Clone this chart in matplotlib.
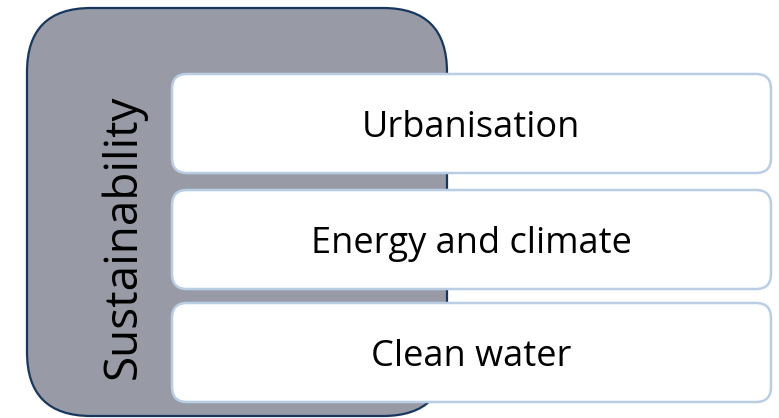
import matplotlib
matplotlib.use("Agg")
import matplotlib.pyplot as plt
from matplotlib.patches import FancyBboxPatch

title = "Sustainability"
items = ["Urbanisation", "Energy and climate", "Clean water"]

W, H = 779, 418
fig = plt.figure(figsize=(W / 100, H / 100), dpi=100)
ax = fig.add_axes([0, 0, 1, 1])
ax.set_xlim(0, W)
ax.set_ylim(H, 0)
ax.axis("off")

# outer container
outer = FancyBboxPatch((27, 8), 420, 408, boxstyle="round,pad=0,rounding_size=64",
                       facecolor="#989ba5", edgecolor="#17375e", linewidth=1.6, zorder=1)
ax.add_patch(outer)
ax.text(123, 237, title, rotation=90, ha="center", va="center",
        fontsize=33, family="Open Sans", color="black", zorder=2)

tops = [74, 190, 303]
h = 99
for t, label in zip(tops, items):
    box = FancyBboxPatch((172, t), 599, h, boxstyle="round,pad=0,rounding_size=15",
                         facecolor="white", edgecolor="#b9cde5", linewidth=1.8, zorder=3)
    ax.add_patch(box)
    ax.text(471, t + 63, label, ha="center", va="baseline",
            fontsize=26, family="Open Sans", color="black", zorder=4)

fig.savefig("out.png", dpi=100)
